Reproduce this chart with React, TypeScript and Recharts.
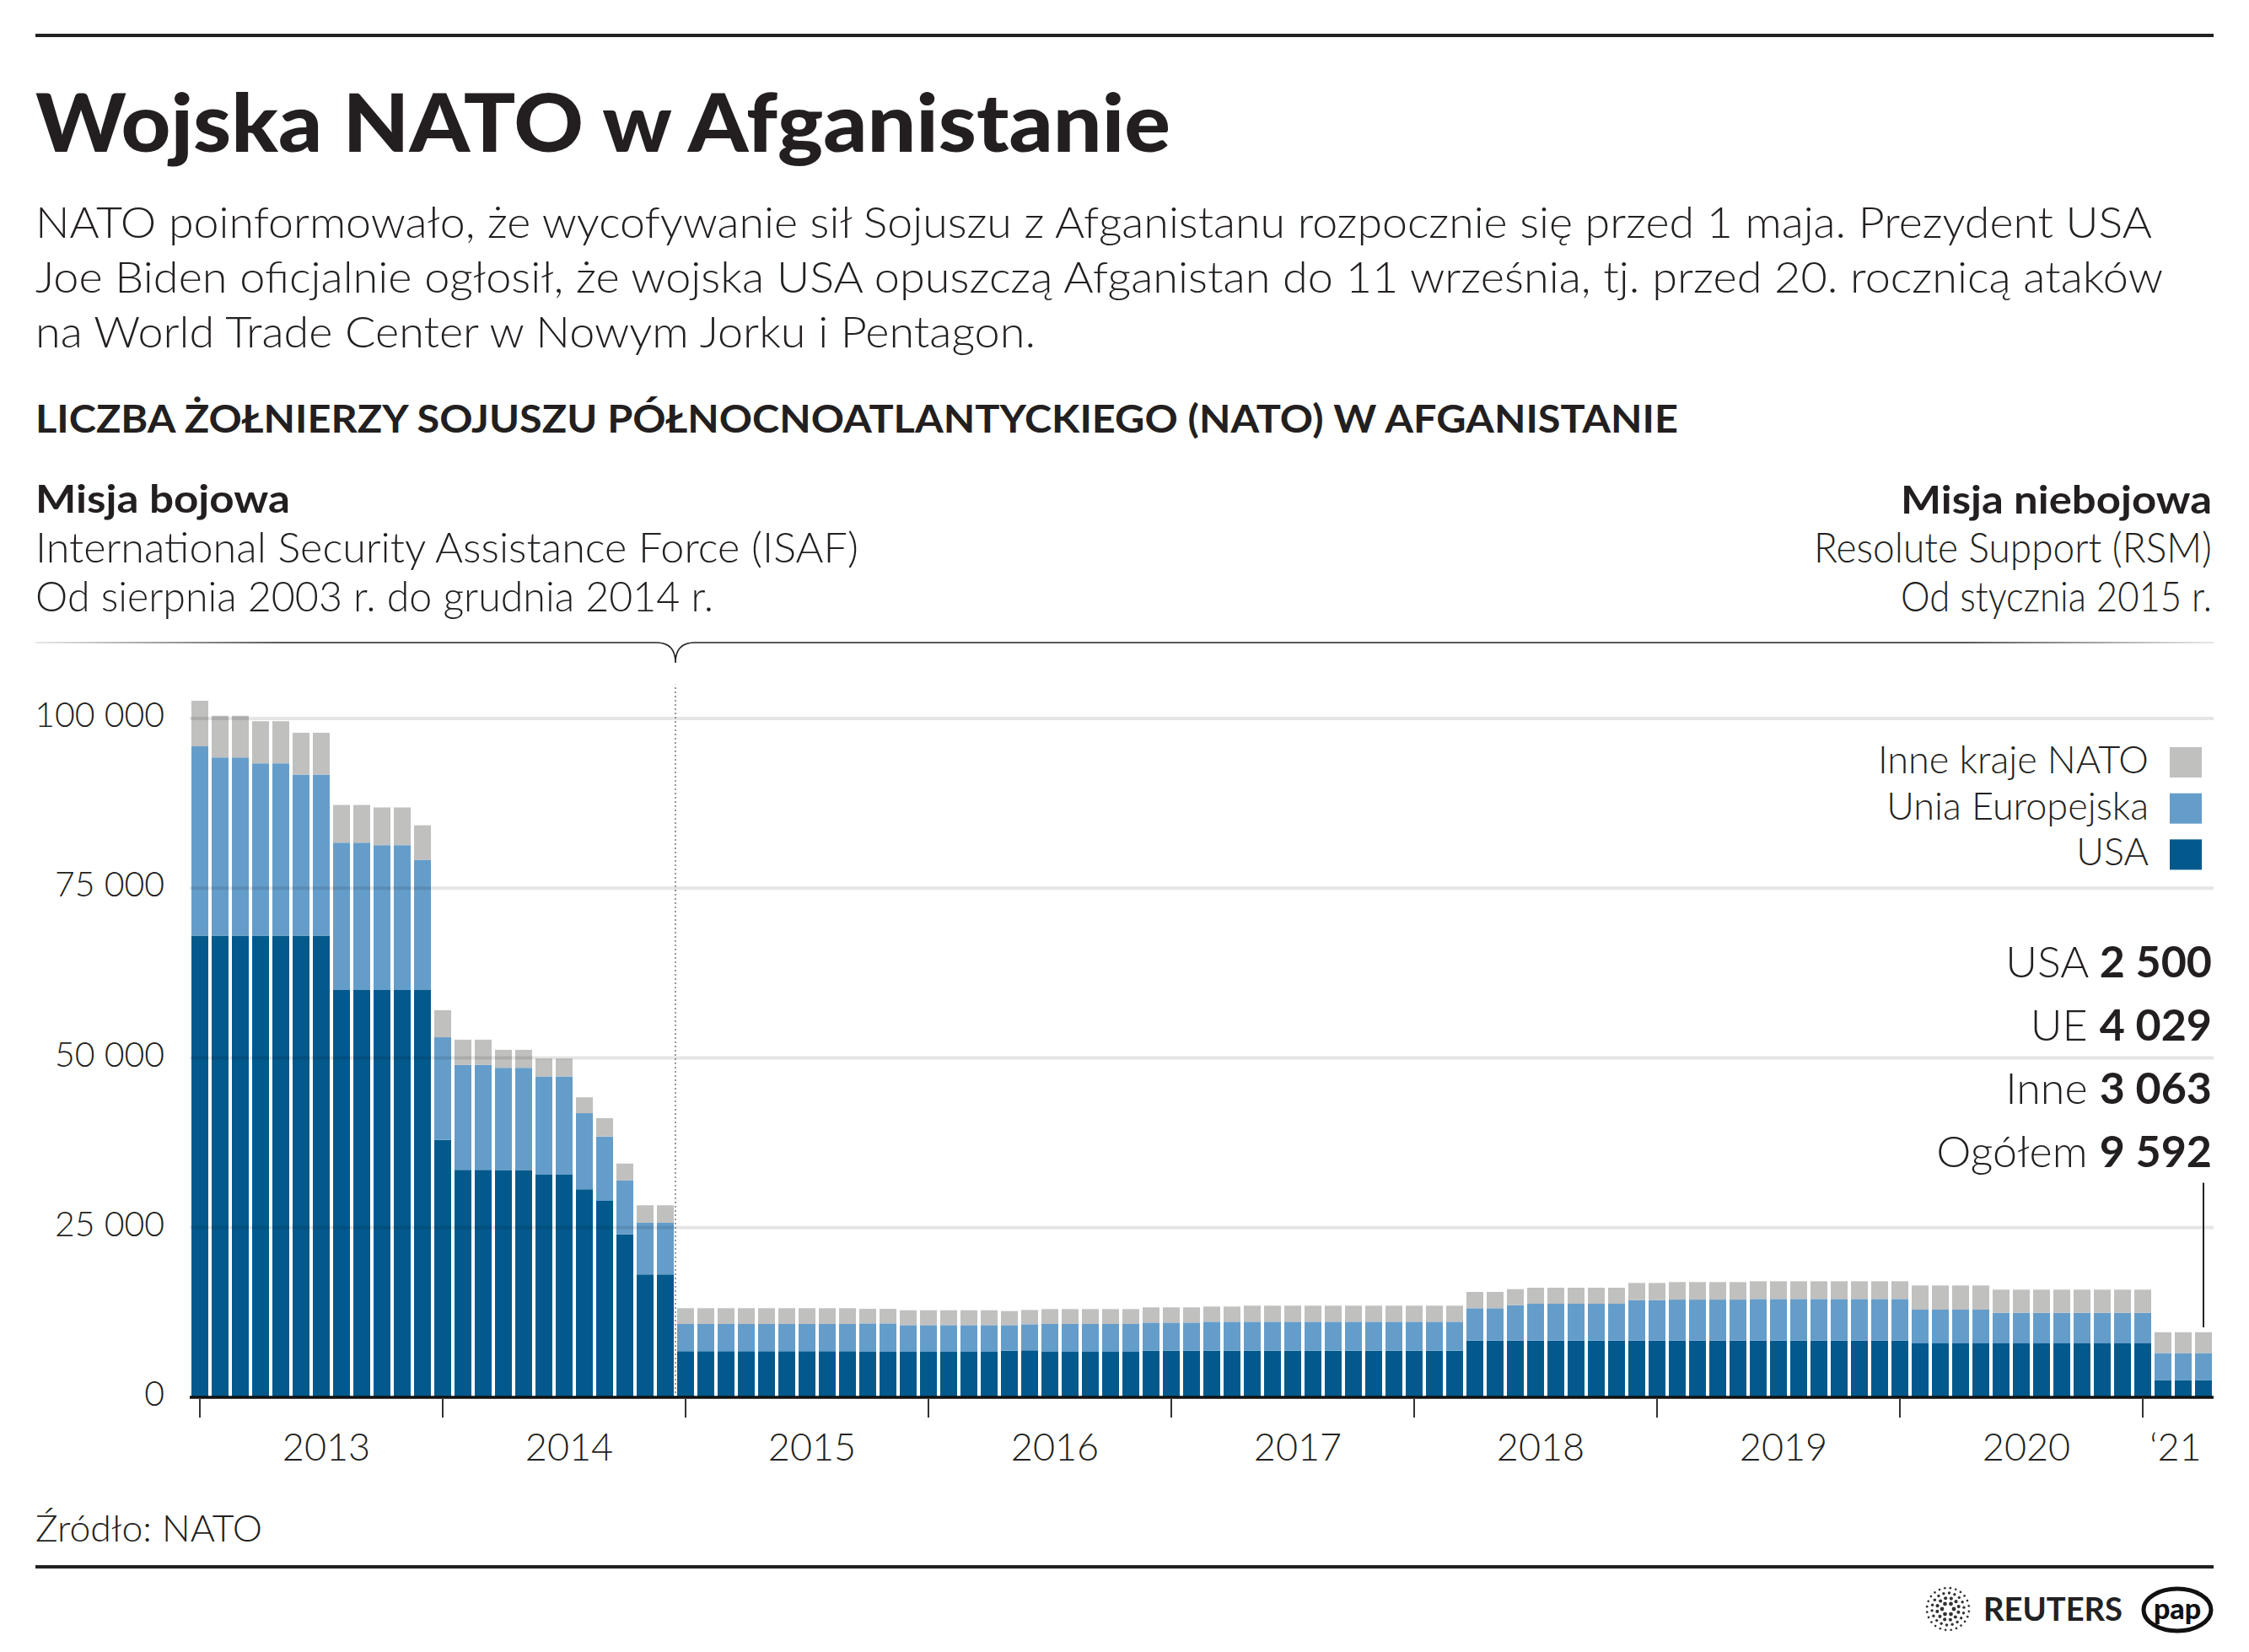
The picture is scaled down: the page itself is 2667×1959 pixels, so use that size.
import React from 'react';
import { BarChart, Bar, XAxis, YAxis, ReferenceLine } from 'recharts';

const FONT = 'Lato, "Source Sans Pro", "Noto Sans", sans-serif';
const INK = '#231f20';

// months: Jan 2013 .. Apr 2021
const years = ['2013', '2014', '2015', '2016', '2017', '2018', '2019', '2020', '2021'];
const monthsPerYear = [12, 12, 12, 12, 12, 12, 12, 12, 4];

// soldiers, one row per year
const usa = [
  68000, 68000, 68000, 68000, 68000, 68000, 68000, 60000, 60000, 60000, 60000, 60000,
  37920, 33500, 33500, 33430, 33430, 32790, 32790, 30650, 28940, 24020, 18100, 18100,
  6790, 6790, 6790, 6790, 6790, 6790, 6790, 6790, 6790, 6700, 6700, 6700,
  6700, 6700, 6700, 6700, 6870, 6910, 6700, 6700, 6700, 6700, 6700, 6870,
  6870, 6870, 6870, 6870, 6870, 6870, 6870, 6870, 6870, 6870, 6870, 6870,
  6870, 6870, 6870, 8360, 8360, 8360, 8360, 8360, 8360, 8360, 8360, 8360,
  8360, 8360, 8360, 8360, 8360, 8360, 8360, 8360, 8360, 8360, 8360, 8360,
  8360, 7950, 7950, 7950, 7950, 7950, 7950, 7950, 7950, 7950, 7950, 7950,
  7950, 2500, 2500, 2500,
];
const eu = [
  27900, 26250, 26250, 25400, 25400, 23750, 23750, 21700, 21700, 21350, 21350, 19150,
  15110, 15470, 15470, 15120, 15120, 14470, 14470, 11200, 9490, 7910, 7630, 7630,
  4020, 4020, 4020, 4020, 4020, 4020, 4020, 4020, 4020, 4190, 4190, 3940,
  3940, 3940, 3940, 3940, 3770, 3860, 4110, 4110, 4110, 4110, 4110, 4140,
  4140, 4140, 4270, 4270, 4270, 4270, 4270, 4270, 4270, 4270, 4270, 4270,
  4270, 4270, 4270, 4770, 4770, 5230, 5430, 5430, 5430, 5430, 5430, 5960,
  5960, 6040, 6040, 6040, 6040, 6130, 6130, 6130, 6130, 6130, 6130, 6130,
  6130, 4970, 4970, 4970, 4970, 4510, 4510, 4510, 4510, 4510, 4510, 4510,
  4510, 4029, 4029, 4029,
];
const other = [
  6700, 6150, 6150, 6200, 6200, 6150, 6150, 5560, 5560, 5550, 5550, 5120,
  4000, 3720, 3720, 2640, 2640, 2640, 2640, 2350, 2700, 2500, 2560, 2560,
  2320, 2320, 2320, 2320, 2320, 2320, 2320, 2320, 2320, 2150, 2150, 2190,
  2190, 2190, 2190, 2190, 2070, 2100, 2190, 2190, 2190, 2190, 2190, 2240,
  2240, 2240, 2230, 2230, 2360, 2360, 2360, 2360, 2360, 2360, 2360, 2360,
  2360, 2360, 2360, 2400, 2400, 2350, 2360, 2360, 2360, 2360, 2360, 2530,
  2530, 2580, 2580, 2580, 2580, 2610, 2610, 2610, 2610, 2610, 2610, 2610,
  2610, 3560, 3560, 3560, 3560, 3400, 3400, 3400, 3400, 3400, 3400, 3400,
  3400, 3063, 3063, 3063,
];

const yTicks = [0, 25000, 50000, 75000, 100000];
const yearTicks = years.map((y) => `${y}-01`);
const labelKeys = ['2013-07', '2014-07', '2015-07', '2016-07', '2017-07', '2018-07', '2019-07', '2020-07', '2021-03'];
const labelNames = ['2013', '2014', '2015', '2016', '2017', '2018', '2019', '2020', '\u201821'];

const series = [
  { key: 'usa', name: 'USA', short: 'USA', color: '#03598c' },
  { key: 'eu', name: 'Unia Europejska', short: 'UE', color: '#659dca' },
  { key: 'other', name: 'Inne kraje NATO', short: 'Inne', color: '#c0c0bf' },
];

const months = years.flatMap((y, i) =>
  Array.from({ length: monthsPerYear[i] }, (_, m) => `${y}-${String(m + 1).padStart(2, '0')}`));
const data = months.map((month, i) => ({ month, usa: usa[i], eu: eu[i], other: other[i] }));
const last = data[data.length - 1];

const fmt = (n: number) => String(n).replace(/\B(?=(\d{3})+(?!\d))/g, ' ');

function YTick({ x, y, payload }: any) {
  return (
    <text x={x} y={y + 10} textAnchor="end" fontFamily={FONT} fontWeight={300} fontSize={41} fill={INK}>
      {fmt(payload.value)}
    </text>
  );
}

function XTick({ x, y, payload }: any) {
  const v = payload.value;
  if (yearTicks.includes(v)) {
    return <line x1={x} x2={x} y1={y + 2} y2={y + 24} stroke="#333" strokeWidth={2} />;
  }
  const i = labelKeys.indexOf(v);
  const dx = i === labelKeys.length - 1 ? -9 : 6;
  return (
    <text x={x + dx} y={y + 75} textAnchor="middle" fontFamily={FONT} fontWeight={300} fontSize={45} fill={INK}>
      {labelNames[i]}
    </text>
  );
}

const header = [
  { t: 'Wojska NATO w Afganistanie', x: 42, y: 180, size: 96, weight: 900, w: 1346 },
  { t: 'NATO poinformowało, że wycofywanie sił Sojuszu z Afganistanu rozpocznie się przed 1 maja. Prezydent USA', x: 42, y: 282, size: 52, weight: 300, w: 2510 },
  { t: 'Joe Biden oficjalnie ogłosił, że wojska USA opuszczą Afganistan do 11 września, tj. przed 20. rocznicą ataków', x: 42, y: 347, size: 52, weight: 300, w: 2523 },
  { t: 'na World Trade Center w Nowym Jorku i Pentagon.', x: 42, y: 412, size: 52, weight: 300, w: 1186 },
  { t: 'LICZBA ŻOŁNIERZY SOJUSZU PÓŁNOCNOATLANTYCKIEGO (NATO) W AFGANISTANIE', x: 42, y: 513, size: 46, weight: 700, w: 1948 },
  { t: 'Misja bojowa', x: 42, y: 608, size: 46, weight: 700, w: 302 },
  { t: 'International Security Assistance Force (ISAF)', x: 42, y: 667, size: 50, weight: 300, w: 976 },
  { t: 'Od sierpnia 2003 r. do grudnia 2014 r.', x: 42, y: 725, size: 50, weight: 300, w: 804 },
  { t: 'Misja niebojowa', x: 2623, y: 609, size: 46, weight: 700, w: 369, end: true },
  { t: 'Resolute Support (RSM)', x: 2623, y: 667, size: 50, weight: 300, w: 472, end: true },
  { t: 'Od stycznia 2015 r.', x: 2623, y: 725, size: 50, weight: 300, w: 369, end: true },
  { t: 'Źródło: NATO', x: 42, y: 1828, size: 44, weight: 300, w: 269 },
];

const callouts = [
  ...series.map((s) => ({ label: s.short, value: (last as any)[s.key] as number })),
  { label: 'Ogółem', value: last.usa + last.eu + last.other },
];

function ReutersMark({ cx, cy }: { cx: number; cy: number }) {
  const dots: React.ReactNode[] = [];
  [7, 13, 19, 25].forEach((r, ri) => {
    const n = 6 + ri * 6;
    for (let k = 0; k < n; k++) {
      const a = (k / n) * Math.PI * 2 + ri * 0.3;
      dots.push(<circle key={`${ri}-${k}`} cx={cx + r * Math.cos(a)} cy={cy + r * Math.sin(a)} r={2.4 - ri * 0.35} fill="#333" />);
    }
  });
  return <g>{dots}</g>;
}

export default function App() {
  return (
    <div style={{ position: 'absolute', left: 0, top: 0, width: 2667, height: 1959, background: '#fff', overflow: 'hidden' }}>
      <div style={{ position: 'absolute', left: 0, top: 0 }}>
        <BarChart
          width={2667}
          height={1760}
          data={data}
          margin={{ top: 811.75, right: 42, bottom: 3, left: 0 }}
          barSize={20}
        >
          <XAxis
            dataKey="month"
            ticks={[...yearTicks, ...labelKeys]}
            interval={0}
            tickLine={false}
            tickSize={0}
            tickMargin={0}
            height={100}
            axisLine={{ stroke: '#111', strokeWidth: 3.5 }}
            tick={(p: any) => <XTick {...p} />}
          />
          <YAxis
            type="number"
            domain={[0, 105000]}
            ticks={yTicks}
            interval={0}
            width={225}
            axisLine={false}
            tickLine={false}
            tickSize={0}
            tickMargin={30}
            tick={(p: any) => <YTick {...p} />}
          />
          {series.map((s) => (
            <Bar key={s.key} dataKey={s.key} name={s.name} stackId="nato" fill={s.color} isAnimationActive={false} />
          ))}
          {yTicks.filter((v) => v > 0).map((v) => (
            <ReferenceLine key={v} y={v} stroke="rgba(0,0,0,0.1)" strokeWidth={4} />
          ))}
          <ReferenceLine x="2015-01" position="start" stroke="#555" strokeWidth={1.2} strokeDasharray="2 3" />
          <ReferenceLine
            segment={[{ x: '2021-04', y: 10300 }, { x: '2021-04', y: 31600 }]}
            stroke="#222"
            strokeWidth={2}
            ifOverflow="visible"
          />
        </BarChart>
      </div>

      <svg width={2667} height={1959} style={{ position: 'absolute', left: 0, top: 0, pointerEvents: 'none' }}>
        <defs>
          <linearGradient id="brace-fade" gradientUnits="userSpaceOnUse" x1={42} x2={2625} y1={0} y2={0}>
            <stop offset="0" stopColor="#e0e0e0" />
            <stop offset="0.114" stopColor="#222" />
            <stop offset="0.886" stopColor="#222" />
            <stop offset="1" stopColor="#e0e0e0" />
          </linearGradient>
        </defs>

        {/* rules */}
        <rect x={42} y={40} width={2583} height={4} fill="#222" />
        <rect x={42} y={1856} width={2583} height={4} fill="#222" />

        {header.map((h) => (
          <text
            key={h.t}
            x={h.x}
            y={h.y}
            textAnchor={h.end ? 'end' : 'start'}
            fontFamily={FONT}
            fontSize={h.size}
            fontWeight={h.weight}
            fill={INK}
            textLength={h.w}
            lengthAdjust="spacingAndGlyphs"
          >
            {h.t}
          </text>
        ))}

        {/* brace between the two missions */}
        <path
          d="M42 762 H778 Q801 762 801 786 Q801 762 824 762 H2625"
          fill="none"
          stroke="url(#brace-fade)"
          strokeWidth={1.6}
        />

        {/* legend */}
        {[...series].reverse().map((s, i) => {
          const by = 917 + i * 54.7;
          return (
            <g key={s.key}>
              <text x={2548} y={by} textAnchor="end" fontFamily={FONT} fontWeight={300} fontSize={45} fill={INK}>
                {s.name}
              </text>
              <rect x={2573} y={by - 31} width={38} height={36} fill={s.color} />
            </g>
          );
        })}

        {/* latest values */}
        {callouts.map((c, i) => (
          <text key={c.label} x={2623} y={1158.5 + i * 75} textAnchor="end" fontFamily={FONT} fontSize={52} fill={INK}>
            <tspan fontWeight={300}>{c.label} </tspan>
            <tspan fontWeight={700}>{fmt(c.value)}</tspan>
          </text>
        ))}

        {/* logos */}
        <ReutersMark cx={2310} cy={1908} />
        <text x={2352} y={1922} fontFamily={FONT} fontWeight={700} fontSize={38} fill="#222" textLength={165} lengthAdjust="spacingAndGlyphs">
          REUTERS
        </text>
        <ellipse cx={2582} cy={1909} rx={40} ry={25} fill="#fff" stroke="#111" strokeWidth={5} />
        <text x={2582} y={1920} textAnchor="middle" fontFamily={FONT} fontWeight={900} fontSize={34} fill="#111">
          pap
        </text>
      </svg>
    </div>
  );
}
